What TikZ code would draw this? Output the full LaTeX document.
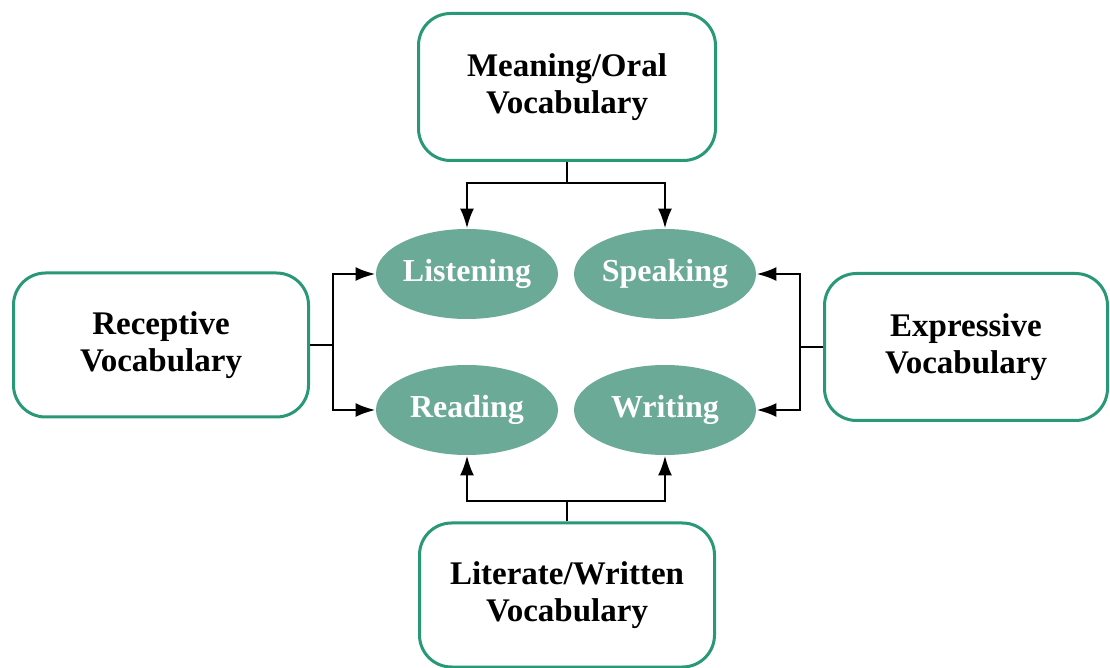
\documentclass[tikz,border=0pt]{standalone}
\usepackage{fontspec}
\setmainfont{Liberation Serif}
\usetikzlibrary{arrows.meta,shapes.geometric}

\definecolor{boxgreen}{RGB}{40,152,118}
\definecolor{ovalgreen}{RGB}{106,170,150}

\tikzset{
  vocab/.style={draw=boxgreen, line width=1.5pt, rounded corners=16pt, fill=white,
    align=center, font=\fontsize{16.5}{18.5}\selectfont\bfseries, inner sep=0pt},
  skill/.style={ellipse, fill=ovalgreen, text=white, inner sep=0pt,
    minimum width=91pt, minimum height=45pt, font=\fontsize{16}{18.5}\selectfont\bfseries},
  link/.style={line width=1.4pt},
  arr/.style={line width=1.4pt, -{Latex[length=10pt,width=7pt]}}
}

\begin{document}
\begin{tikzpicture}[x=0.5pt,y=-0.5pt]

\useasboundingbox (0,0) rectangle (1110,668);

% vocabulary boxes
\node[vocab, minimum width=148.5pt, minimum height=73.5pt] (oral) at (567,87) {Meaning/Oral\\Vocabulary};
\node[vocab, minimum width=147.5pt, minimum height=72pt] (recep) at (161,345) {Receptive\\Vocabulary};
\node[vocab, minimum width=141.5pt, minimum height=73.5pt] (expr) at (966,347) {Expressive\\Vocabulary};
\node[vocab, minimum width=147.5pt, minimum height=72pt] (liter) at (567,595) {Literate/Written\\Vocabulary};

% skills
\node[skill] (listen) at (467,274) {Listening};
\node[skill] (speak) at (665,274) {Speaking};
\node[skill] (read) at (467,410) {Reading};
\node[skill] (write) at (665,410) {Writing};

% junctions
\coordinate (tj) at (567,183);
\coordinate (lj) at (333,345);
\coordinate (rj) at (800,347);
\coordinate (bj) at (567,501);

\draw[link] (oral.south) -- (tj);
\draw[arr] (tj) -| (listen.north);
\draw[arr] (tj) -| (speak.north);

\draw[link] (recep.east) -- (lj);
\draw[arr] (lj) |- (listen.west);
\draw[arr] (lj) |- (read.west);

\draw[link] (expr.west) -- (rj);
\draw[arr] (rj) |- (speak.east);
\draw[arr] (rj) |- (write.east);

\draw[link] (liter.north) -- (bj);
\draw[arr] (bj) -| (read.south);
\draw[arr] (bj) -| (write.south);

\end{tikzpicture}
\end{document}
